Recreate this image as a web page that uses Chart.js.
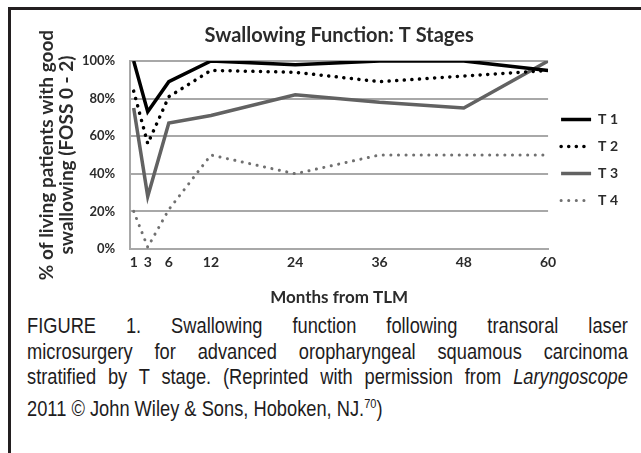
<!DOCTYPE html>
<html>
<head>
<meta charset="utf-8">
<script src="https://cdn.jsdelivr.net/npm/chart.js@4.4.1/dist/chart.umd.min.js"></script>
<style>
html, body { margin: 0; padding: 0; background: #fff; width: 641px; height: 453px; overflow: hidden; }
.frame { position: absolute; left: 8px; top: 7px; right: -10px; bottom: -10px; border-left: 3px solid #231f20; border-top: 3px solid #231f20; }
.box { position: absolute; left: 10px; top: 10px; width: 631px; height: 300px; }
.caption { position: absolute; left: 27px; top: 314px; font-family: "Liberation Sans", Arial, sans-serif; font-size: 21.5px; line-height: 25.5px; color: #1e1c1d; }
.caption div { width: 707px; transform: scaleX(0.85); transform-origin: 0 0; text-align: justify; text-align-last: justify; white-space: nowrap; }
.caption div.last { text-align-last: left; }
</style>
</head>
<body>
<div class="frame"></div>
<div class="box"><canvas id="swallowChart"></canvas></div>
<div class="caption">
  <div>FIGURE 1. Swallowing function following transoral laser</div>
  <div>microsurgery for advanced oropharyngeal squamous carcinoma</div>
  <div>stratified by T stage. (Reprinted with permission from <i>Laryngoscope</i></div>
  <div class="last">2011 © John Wiley &amp; Sons, Hoboken, NJ.<sup style="font-size:13px">70</sup>)</div>
</div>
<script>
const months = [1, 3, 6, 12, 24, 36, 48, 60]
const t1 = [100, 73, 89, 100, 98, 100, 100, 95]
const t2 = [84, 56, 81, 95, 94, 89, 92, 95]
const t3 = [75, 28, 67, 71, 82, 78, 75, 100]
const t4 = [20, 1, 21, 50, 40, 50, 50, 50]

const textColor = '#2b2b2b'
const gridColor = '#a8a8a8'
const chartFont = 'Lato'

const toPoints = values => months.map((m, i) => ({ x: m, y: values[i] }))

const series = [
    { label: 'T 1', data: toPoints(t1), borderColor: '#000', borderWidth: 3.5, borderDash: [], borderCapStyle: 'butt' },
    { label: 'T 2', data: toPoints(t2), borderColor: '#000', borderWidth: 3.5, borderDash: [0.1, 7.5], borderCapStyle: 'round' },
    { label: 'T 3', data: toPoints(t3), borderColor: '#626262', borderWidth: 3.5, borderDash: [], borderCapStyle: 'butt' },
    { label: 'T 4', data: toPoints(t4), borderColor: '#707070', borderWidth: 3, borderDash: [0.1, 7.5], borderCapStyle: 'round' }
]

const data = {
    datasets: series.map(s => ({
        ...s,
        pointRadius: 0,
        tension: 0,
        fill: false
    }))
}

// legend lines take the dash of their dataset
const legendLabels = chart => Chart.defaults.plugins.legend.labels.generateLabels(chart).map((item, i) => ({
    ...item,
    strokeStyle: series[i].borderColor,
    lineWidth: series[i].borderWidth,
    lineDash: series[i].borderDash,
    lineCap: series[i].borderCapStyle
}))

const options = {
    responsive: false,
    animation: false,
    layout: { padding: { left: 27, right: 13, top: 0, bottom: 0 } },
    plugins: {
        title: {
            display: true,
            fullSize: false,
            text: 'Swallowing Function: T Stages',
            color: textColor,
            font: { family: chartFont, size: 20, weight: 'bold' },
            padding: { top: 14, bottom: 13 }
        },
        legend: {
            position: 'right',
            labels: {
                usePointStyle: true,
                pointStyle: 'line',
                pointStyleWidth: 30,
                padding: 13,
                color: textColor,
                font: { family: chartFont, size: 14, weight: 'bold' },
                generateLabels: legendLabels
            }
        },
        tooltip: { enabled: false }
    },
    scales: {
        x: {
            type: 'linear',
            min: 0.5,
            max: 60,
            afterBuildTicks: axis => { axis.ticks = months.map(v => ({ value: v })) },
            grid: { display: false, drawTicks: false },
            border: { display: true, color: gridColor, width: 2 },
            ticks: {
                autoSkip: false,
                maxRotation: 0,
                padding: 4.6,
                color: textColor,
                font: { family: chartFont, size: 14, weight: 'bold' }
            },
            title: {
                display: true,
                text: 'Months from TLM',
                color: textColor,
                font: { family: chartFont, size: 17, weight: 'bold' },
                padding: { top: 12.8, bottom: 1.8 }
            }
        },
        y: {
            min: 0,
            max: 100,
            grid: { color: gridColor, lineWidth: 2, drawTicks: false },
            border: { display: true, color: gridColor, width: 2 },
            ticks: {
                stepSize: 20,
                padding: 15,
                color: textColor,
                font: { family: chartFont, size: 13, weight: 'bold' },
                callback: v => v + '%'
            },
            title: {
                display: true,
                text: ['% of living patients with good', 'swallowing (FOSS 0 - 2)'],
                color: textColor,
                font: { family: chartFont, size: 19, weight: 'bold', lineHeight: 1.05 },
                padding: { top: 0, bottom: -10 }
            }
        }
    }
}

const canvas = document.getElementById('swallowChart')
canvas.width = 631
canvas.height = 300
new Chart(canvas, { type: 'line', data, options })
</script>
</body>
</html>
